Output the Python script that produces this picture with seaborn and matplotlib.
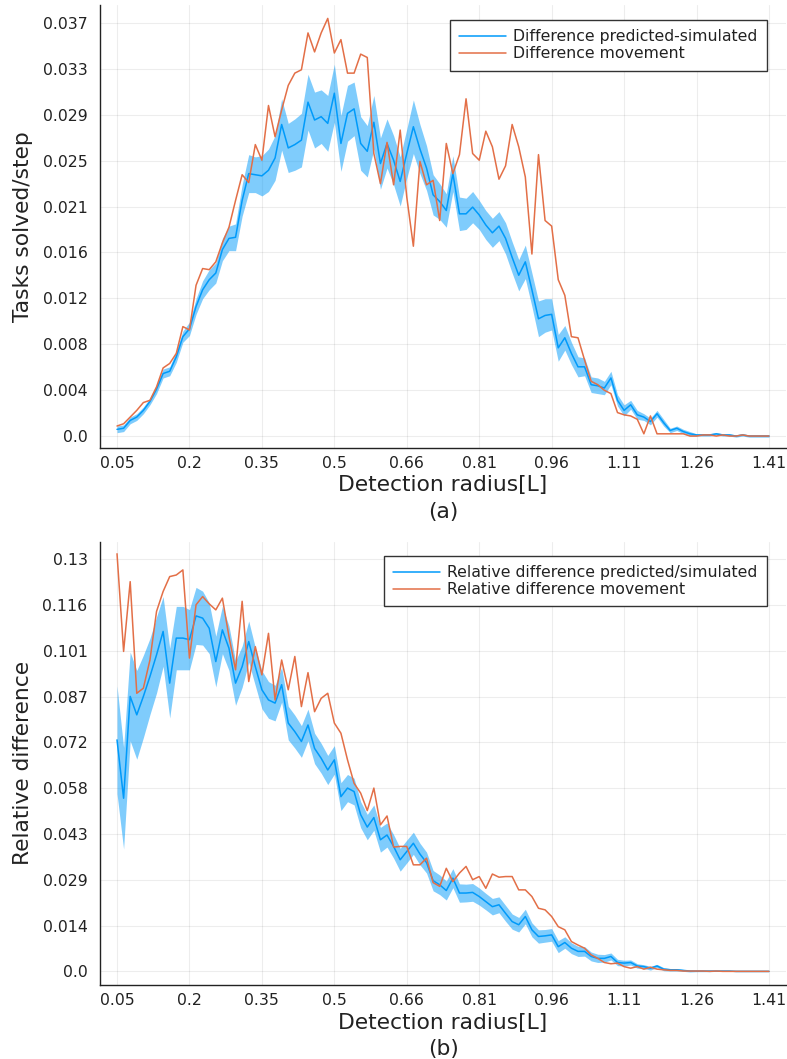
import numpy as np
import pandas as pd
import seaborn as sns
import matplotlib
matplotlib.use("Agg")
import matplotlib.pyplot as plt

# ---------------- data ----------------
radius = np.linspace(0.05, 1.41, 100)

x_tick_labels = ["0.05", "0.2", "0.35", "0.5", "0.66", "0.81", "0.96", "1.11", "1.26", "1.41"]
y_tick_labels_a = ["0.0", "0.004", "0.008", "0.012", "0.016", "0.021", "0.025", "0.029", "0.033", "0.037"]
y_tick_labels_b = ["0.0", "0.014", "0.029", "0.043", "0.058", "0.072", "0.087", "0.101", "0.116", "0.13"]

pred_a = [0.0006, 0.0007, 0.0014, 0.0017, 0.0023, 0.0031, 0.0042, 0.0056, 0.0058, 0.0071,
          0.0089, 0.0096, 0.0116, 0.0131, 0.0140, 0.0146, 0.0167, 0.0177, 0.0178, 0.0211,
          0.0235, 0.0234, 0.0233, 0.0238, 0.0249, 0.0279, 0.0258, 0.0261, 0.0265, 0.0299,
          0.0283, 0.0286, 0.0280, 0.0307, 0.0262, 0.0289, 0.0293, 0.0262, 0.0255, 0.0281,
          0.0244, 0.0262, 0.0247, 0.0228, 0.0253, 0.0277, 0.0257, 0.0240, 0.0216, 0.0210,
          0.0202, 0.0235, 0.0199, 0.0199, 0.0205, 0.0198, 0.0189, 0.0182, 0.0188, 0.0177,
          0.0160, 0.0144, 0.0156, 0.0131, 0.0105, 0.0108, 0.0109, 0.0079, 0.0088, 0.0074,
          0.0062, 0.0062, 0.0046, 0.0045, 0.0043, 0.0052, 0.0032, 0.0023, 0.0028, 0.0019,
          0.0017, 0.0013, 0.0020, 0.0012, 0.0005, 0.0007, 0.0004, 0.0002, 0.0001, 0.0001,
          0.0001, 0.0002, 0.0001, 0.0001, 0.0000, 0.0001, 0.0000, 0.0000, 0.0000, 0.0000]

err_a = [0.0003, 0.0003, 0.0003, 0.0003, 0.0003, 0.0003, 0.0004, 0.0004, 0.0004, 0.0005,
         0.0005, 0.0006, 0.0007, 0.0008, 0.0009, 0.0009, 0.0010, 0.0011, 0.0012, 0.0014,
         0.0017, 0.0016, 0.0018, 0.0019, 0.0020, 0.0023, 0.0022, 0.0023, 0.0024, 0.0025,
         0.0025, 0.0024, 0.0025, 0.0026, 0.0025, 0.0025, 0.0024, 0.0024, 0.0023, 0.0024,
         0.0023, 0.0022, 0.0022, 0.0022, 0.0022, 0.0024, 0.0022, 0.0020, 0.0018, 0.0016,
         0.0015, 0.0016, 0.0015, 0.0014, 0.0014, 0.0013, 0.0013, 0.0013, 0.0013, 0.0014,
         0.0014, 0.0014, 0.0015, 0.0015, 0.0016, 0.0015, 0.0014, 0.0012, 0.0011, 0.0010,
         0.0009, 0.0008, 0.0007, 0.0007, 0.0006, 0.0006, 0.0005, 0.0005, 0.0004, 0.0004,
         0.0003, 0.0003, 0.0003, 0.0003, 0.0002, 0.0002, 0.0002, 0.0002, 0.0001, 0.0001,
         0.0001, 0.0001, 0.0001, 0.0001, 0.0001, 0.0001, 0.0001, 0.0001, 0.0001, 0.0001]

move_a = [0.0009, 0.0011, 0.0017, 0.0023, 0.0030, 0.0032, 0.0044, 0.0061, 0.0065, 0.0074,
          0.0098, 0.0095, 0.0135, 0.0150, 0.0149, 0.0156, 0.0173, 0.0187, 0.0211, 0.0234,
          0.0227, 0.0261, 0.0247, 0.0296, 0.0268, 0.0292, 0.0314, 0.0325, 0.0328, 0.0361,
          0.0344, 0.0361, 0.0374, 0.0343, 0.0355, 0.0325, 0.0325, 0.0342, 0.0339, 0.0253,
          0.0226, 0.0263, 0.0225, 0.0274, 0.0214, 0.0170, 0.0246, 0.0225, 0.0229, 0.0193,
          0.0262, 0.0235, 0.0252, 0.0302, 0.0253, 0.0247, 0.0273, 0.0259, 0.0230, 0.0242,
          0.0279, 0.0259, 0.0232, 0.0163, 0.0252, 0.0193, 0.0188, 0.0140, 0.0126, 0.0089,
          0.0088, 0.0068, 0.0049, 0.0046, 0.0041, 0.0038, 0.0021, 0.0019, 0.0018, 0.0015,
          0.0002, 0.0018, 0.0002, 0.0002, 0.0002, 0.0002, 0.0002, 0.0000, 0.0000, 0.0001,
          0.0001, 0.0000, 0.0001, 0.0000, 0.0000, 0.0001, 0.0000, 0.0000, 0.0000, 0.0000]

pred_b = [0.0730, 0.0546, 0.0867, 0.0809, 0.0867, 0.0930, 0.0998, 0.1072, 0.0909, 0.1051,
          0.1051, 0.1046, 0.1121, 0.1114, 0.1082, 0.0977, 0.1077, 0.1019, 0.0909, 0.0961,
          0.1040, 0.0961, 0.0888, 0.0856, 0.0846, 0.0904, 0.0783, 0.0756, 0.0725, 0.0777,
          0.0703, 0.0672, 0.0635, 0.0667, 0.0551, 0.0578, 0.0567, 0.0494, 0.0455, 0.0485,
          0.0415, 0.0430, 0.0394, 0.0352, 0.0378, 0.0404, 0.0370, 0.0343, 0.0286, 0.0273,
          0.0255, 0.0294, 0.0247, 0.0247, 0.0249, 0.0236, 0.0220, 0.0204, 0.0210, 0.0183,
          0.0157, 0.0147, 0.0173, 0.0131, 0.0110, 0.0112, 0.0115, 0.0078, 0.0091, 0.0073,
          0.0063, 0.0063, 0.0047, 0.0041, 0.0041, 0.0047, 0.0028, 0.0026, 0.0028, 0.0017,
          0.0015, 0.0010, 0.0017, 0.0007, 0.0005, 0.0005, 0.0003, 0.0001, 0.0001, 0.0001,
          0.0001, 0.0001, 0.0001, 0.0001, 0.0000, 0.0000, 0.0000, 0.0000, 0.0000, 0.0000]

err_b = [0.0170, 0.0160, 0.0140, 0.0140, 0.0130, 0.0120, 0.0120, 0.0110, 0.0110, 0.0100,
         0.0100, 0.0095, 0.0090, 0.0085, 0.0080, 0.0080, 0.0075, 0.0070, 0.0070, 0.0065,
         0.0065, 0.0060, 0.0060, 0.0058, 0.0056, 0.0055, 0.0053, 0.0052, 0.0050, 0.0050,
         0.0048, 0.0047, 0.0046, 0.0045, 0.0044, 0.0043, 0.0042, 0.0041, 0.0040, 0.0040,
         0.0039, 0.0038, 0.0037, 0.0036, 0.0036, 0.0035, 0.0034, 0.0033, 0.0032, 0.0031,
         0.0030, 0.0030, 0.0029, 0.0028, 0.0028, 0.0027, 0.0026, 0.0026, 0.0025, 0.0025,
         0.0024, 0.0023, 0.0023, 0.0022, 0.0021, 0.0020, 0.0020, 0.0019, 0.0018, 0.0017,
         0.0016, 0.0015, 0.0014, 0.0013, 0.0012, 0.0011, 0.0010, 0.0009, 0.0008, 0.0007,
         0.0006, 0.0006, 0.0005, 0.0005, 0.0004, 0.0004, 0.0003, 0.0003, 0.0002, 0.0002,
         0.0002, 0.0001, 0.0001, 0.0001, 0.0001, 0.0001, 0.0001, 0.0001, 0.0001, 0.0001]

move_b = [0.1317, 0.1009, 0.1229, 0.0877, 0.0893, 0.0982, 0.1135, 0.1198, 0.1245, 0.1250,
          0.1266, 0.0988, 0.1156, 0.1182, 0.1159, 0.1140, 0.1177, 0.1056, 0.0951, 0.1167,
          0.0914, 0.1024, 0.0935, 0.1066, 0.0856, 0.0982, 0.0888, 0.0993, 0.0835, 0.0942,
          0.0819, 0.0861, 0.0877, 0.0783, 0.0751, 0.0667, 0.0593, 0.0562, 0.0507, 0.0578,
          0.0462, 0.0490, 0.0392, 0.0394, 0.0394, 0.0336, 0.0336, 0.0357, 0.0280, 0.0268,
          0.0325, 0.0283, 0.0310, 0.0331, 0.0289, 0.0299, 0.0262, 0.0307, 0.0297, 0.0299,
          0.0299, 0.0257, 0.0257, 0.0236, 0.0199, 0.0194, 0.0173, 0.0141, 0.0131, 0.0094,
          0.0083, 0.0073, 0.0052, 0.0041, 0.0028, 0.0024, 0.0026, 0.0015, 0.0010, 0.0015,
          0.0007, 0.0013, 0.0007, 0.0005, 0.0003, 0.0003, 0.0001, 0.0001, 0.0001, 0.0001,
          0.0000, 0.0001, 0.0000, 0.0000, 0.0000, 0.0000, 0.0000, 0.0000, 0.0000, 0.0000]

# ---------------- style ----------------
BLUE = "#009AFA"
ORANGE = "#E36F47"
TXT = "#222222"

sns.set_style("white")
plt.rcParams["font.family"] = ["DejaVu Sans"]

fig = plt.figure(figsize=(7.87, 10.59), dpi=100)
W, H = 787.0, 1059.0
ax_a = fig.add_axes([100 / W, 1 - 448 / H, 686 / W, 443 / H])
ax_b = fig.add_axes([100 / W, 1 - 985 / H, 686 / W, 443.3 / H])


def draw(ax, pred, err, move, lab_pred, lab_move, ylabel, ytick_labels, ymax_tick, ylim, tag, anchor_y):
    pred = np.asarray(pred)
    err = np.asarray(err)
    df = pd.DataFrame({"radius": radius, "pred": pred, "move": move})
    ax.fill_between(radius, pred - err, pred + err, color=BLUE, alpha=0.5, linewidth=0)
    sns.lineplot(data=df, x="radius", y="pred", ax=ax, color=BLUE, linewidth=1.1, label=lab_pred)
    sns.lineplot(data=df, x="radius", y="move", ax=ax, color=ORANGE, linewidth=1.1, label=lab_move)

    ax.set_xlim(0.0145, 1.4455)
    ax.set_ylim(*ylim)
    xt = np.linspace(0.05, 1.41, 10)
    yt = np.linspace(0, ymax_tick, 10)
    ax.set_xticks(xt)
    ax.set_xticklabels(x_tick_labels, fontsize=11.3)
    ax.set_yticks(yt)
    ax.set_yticklabels(ytick_labels, fontsize=11.3)
    ax.grid(True, color="#000000", alpha=0.07, linewidth=0.8)
    ax.set_axisbelow(True)
    for s in ["top", "right"]:
        ax.spines[s].set_visible(False)
    for s in ["left", "bottom"]:
        ax.spines[s].set_color(TXT)
        ax.spines[s].set_linewidth(1.0)
    ax.tick_params(direction="in", length=4, width=0.9, color=TXT, labelcolor=TXT)
    ax.tick_params(axis="y", pad=9)
    ax.tick_params(axis="x", pad=6)
    ax.set_xlabel("Detection radius[L]\n" + tag, fontsize=15.7, color=TXT, linespacing=1.4, labelpad=3)
    ax.set_ylabel(ylabel, fontsize=15.7, color=TXT, labelpad=7)
    leg = ax.legend(loc="upper right", bbox_to_anchor=(0.972, anchor_y), borderaxespad=0,
                    fontsize=11.3, frameon=True, fancybox=False, handlelength=3.0,
                    handletextpad=0.45, borderpad=0.6, labelspacing=0.12)
    leg.get_frame().set_edgecolor("#333333")
    leg.get_frame().set_linewidth(1.0)
    leg.get_frame().set_alpha(1.0)
    for t in leg.get_texts():
        t.set_color(TXT)


draw(ax_a, pred_a, err_a, move_a, "Difference predicted-simulated", "Difference movement",
     "Tasks solved/step", y_tick_labels_a, 0.037, (-0.00107, 0.0386), "(a)", 1 - 15 / 443)
draw(ax_b, pred_b, err_b, move_b, "Relative difference predicted/simulated", "Relative difference movement",
     "Relative difference", y_tick_labels_b, 0.13, (-0.0043, 0.1355), "(b)", 1 - 14 / 443.3)

fig.savefig("out.png", dpi=100)
